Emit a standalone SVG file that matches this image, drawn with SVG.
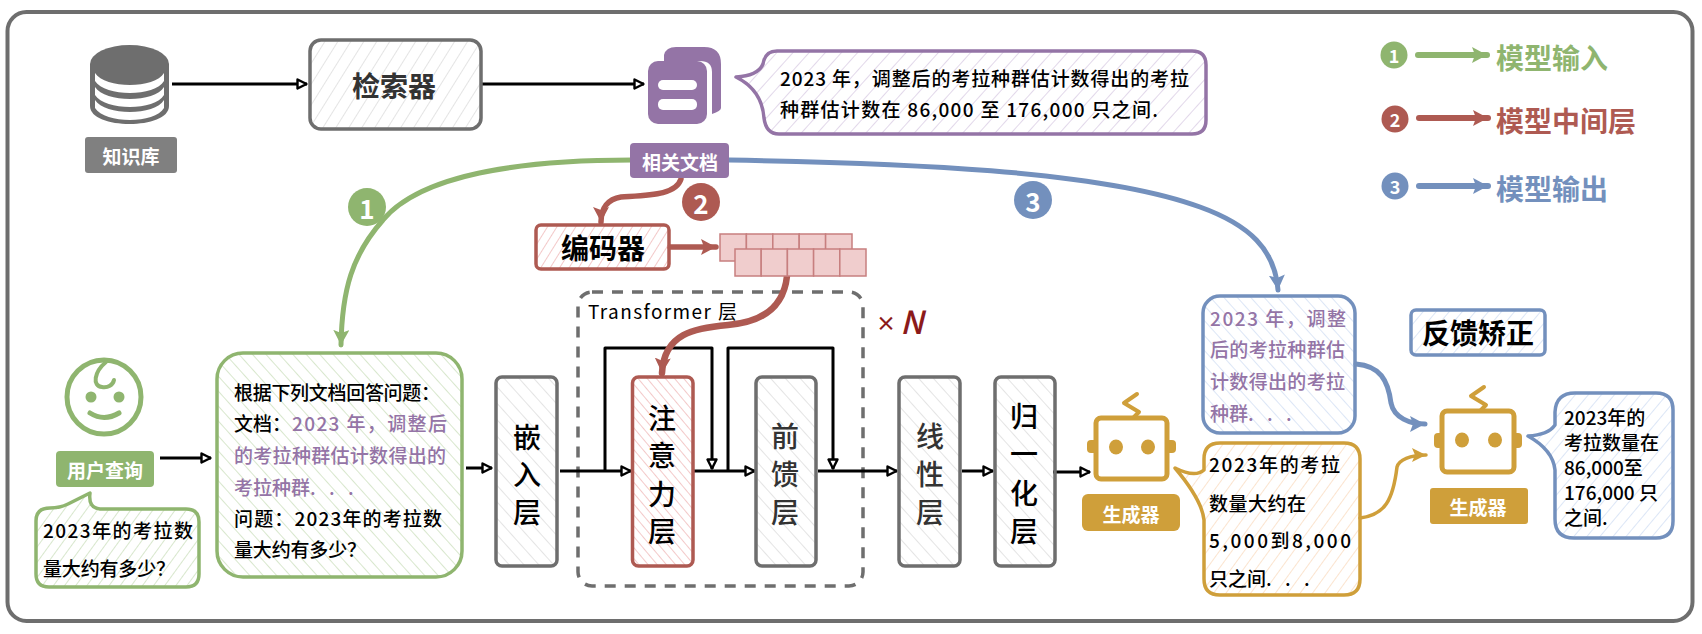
<svg xmlns="http://www.w3.org/2000/svg" width="1702" height="634" viewBox="0 0 1702 634">
<style>
text{font-family:"Noto Sans CJK SC","Noto Sans",sans-serif;dominant-baseline:central;fill:#000}
.t{font-size:19px;font-weight:500}
.p{fill:#9474a6}
.lab{fill:#fff;font-size:19px;font-weight:700;text-anchor:middle}
.v{font-size:28px;font-weight:500;text-anchor:middle}
.vg{fill:#333}
.h{font-size:28px;font-weight:700;text-anchor:middle}
.leg{font-size:28px;font-weight:700}
.num{fill:#fff;font-weight:700;text-anchor:middle}
.box{stroke-width:3.5;stroke-linejoin:round}
.k{fill:none;stroke:#000;stroke-width:3;stroke-linejoin:round}
.c{fill:none;stroke-linecap:round}
.cell{fill:#f0cdcd;stroke:#c77f7f;stroke-width:1.5}
.d{word-spacing:9px}
</style>
<defs>
<pattern id="hgf" width="11" height="11" patternUnits="userSpaceOnUse" patternTransform="rotate(32)"><line x1="0" y1="0" x2="0" y2="11" stroke="#e4e4e4" stroke-width="2"/></pattern>
<pattern id="hgb" width="11" height="11" patternUnits="userSpaceOnUse" patternTransform="rotate(-42)"><line x1="0" y1="0" x2="0" y2="11" stroke="#e4e4e4" stroke-width="2"/></pattern>
<pattern id="hrb" width="7" height="7" patternUnits="userSpaceOnUse" patternTransform="rotate(-40)"><line x1="0" y1="0" x2="0" y2="7" stroke="#f3c9c9" stroke-width="2"/></pattern>
<pattern id="hrf" width="8" height="8" patternUnits="userSpaceOnUse" patternTransform="rotate(32)"><line x1="0" y1="0" x2="0" y2="8" stroke="#f3c9c9" stroke-width="2"/></pattern>
<pattern id="hgnb" width="10" height="10" patternUnits="userSpaceOnUse" patternTransform="rotate(-42)"><line x1="0" y1="0" x2="0" y2="10" stroke="#d8e7cd" stroke-width="2"/></pattern>
<pattern id="hgnf" width="9" height="9" patternUnits="userSpaceOnUse" patternTransform="rotate(36)"><line x1="0" y1="0" x2="0" y2="9" stroke="#d8e7cd" stroke-width="2"/></pattern>
<pattern id="hpf" width="12" height="12" patternUnits="userSpaceOnUse" patternTransform="rotate(42)"><line x1="0" y1="0" x2="0" y2="12" stroke="#e2d8ea" stroke-width="2"/></pattern>
<pattern id="hbb" width="10" height="10" patternUnits="userSpaceOnUse" patternTransform="rotate(-42)"><line x1="0" y1="0" x2="0" y2="10" stroke="#dce6f6" stroke-width="2"/></pattern>
<pattern id="hbf" width="10" height="10" patternUnits="userSpaceOnUse" patternTransform="rotate(40)"><line x1="0" y1="0" x2="0" y2="10" stroke="#dce6f6" stroke-width="2"/></pattern>
<pattern id="hof" width="10" height="10" patternUnits="userSpaceOnUse" patternTransform="rotate(36)"><line x1="0" y1="0" x2="0" y2="10" stroke="#fbe4cf" stroke-width="2"/></pattern>
<marker id="ak" markerUnits="userSpaceOnUse" markerWidth="14" markerHeight="14" refX="11" refY="6" orient="auto"><path d="M1.5,1.5 L10.5,6 L1.5,10.5 Z" fill="#fff" stroke="#000" stroke-width="2.4" stroke-linejoin="round"/></marker>
<marker id="ag" markerUnits="userSpaceOnUse" markerWidth="20" markerHeight="20" refX="15" refY="8" orient="auto"><path d="M0,0 L15,8 L0,16 L3,8 Z" fill="#8fb56f"/></marker>
<marker id="ar" markerUnits="userSpaceOnUse" markerWidth="20" markerHeight="20" refX="15" refY="8" orient="auto"><path d="M0,0 L15,8 L0,16 L3,8 Z" fill="#ae5a52"/></marker>
<marker id="ab" markerUnits="userSpaceOnUse" markerWidth="20" markerHeight="20" refX="15" refY="8" orient="auto"><path d="M0,0 L15,8 L0,16 L3,8 Z" fill="#7390bd"/></marker>
<marker id="ay" markerUnits="userSpaceOnUse" markerWidth="20" markerHeight="20" refX="14" refY="7" orient="auto"><path d="M0,0 L14,7 L0,14 L3,7 Z" fill="#cf9f3a"/></marker>
</defs>
<rect width="1702" height="634" fill="#fff"/>
<rect id="frame" x="7.5" y="12" width="1685" height="609" rx="19" fill="#fff" stroke="#6e6e6e" stroke-width="4"/>

<g id="transformer-group"><rect x="578" y="292" width="285" height="294" rx="14" fill="none" stroke="#6e6e6e" stroke-width="3.5" stroke-dasharray="11 9"/>
<text x="588" y="310" font-size="19" textLength="149">Transformer 层</text>
<text x="876" y="322" font-size="20" font-weight="700" style="fill:#8b1a1a">×</text><text x="900" y="320" font-size="32" font-style="italic" font-weight="500" style="fill:#8b1a1a">N</text></g>

<g id="connectors">
<path class="k" d="M172,84 H307" stroke-width="3.5" marker-end="url(#ak)"/>
<path class="k" d="M481,84 H644" marker-end="url(#ak)"/>
<path class="k" d="M160,458 H211" marker-end="url(#ak)"/>
<path class="k" d="M466,468 H492" stroke-width="3.5" marker-end="url(#ak)"/>
<path class="k" d="M560,471 H631" marker-end="url(#ak)"/>
<path class="k" d="M605,471 V348 H712 V469" marker-end="url(#ak)"/>
<path class="k" d="M694,471 H755" marker-end="url(#ak)"/>
<path class="k" d="M728,471 V348 H833 V469" marker-end="url(#ak)"/>
<path class="k" d="M818,471 H897" marker-end="url(#ak)"/>
<path class="k" d="M962,471 H993" marker-end="url(#ak)"/>
<path class="k" d="M1053,472 H1090" marker-end="url(#ak)"/>
<path class="c" d="M632,160 C520,160 420,175 383,220 C352,255 342,290 341,345" stroke="#8fb56f" stroke-width="5" marker-end="url(#ag)"/>
<path class="c" d="M729,160 C900,163 1100,170 1200,207 C1250,225 1275,250 1278,290" stroke="#7390bd" stroke-width="5" marker-end="url(#ab)"/>
<path class="c" d="M681,179 C676,195 650,195 621,197 C608,199 601,208 601,222" stroke="#ae5a52" stroke-width="5.5" marker-end="url(#ar)"/>
<path class="c" d="M670,247 H716" stroke="#ae5a52" stroke-width="5.5" marker-end="url(#ar)"/>
<path class="c" d="M787,276 C784,305 765,322 728,325 C695,328 664,333 662,373" stroke="#ae5a52" stroke-width="6.5" marker-end="url(#ar)"/>
<path class="c" d="M1356,364 C1380,366 1388,380 1391,403 C1394,418 1410,424 1425,424" stroke="#7390bd" stroke-width="5" marker-end="url(#ab)"/>
<path class="c" d="M1360,518 C1385,515 1393,500 1397,467 C1399,460 1410,455 1426,455" stroke="#cf9f3a" stroke-width="3.5" marker-end="url(#ay)"/>
<path class="c" d="M1418,55 H1487" stroke="#8fb56f" stroke-width="6" marker-end="url(#ag)"/>
<path class="c" d="M1419,118 H1488" stroke="#ae5a52" stroke-width="6" marker-end="url(#ar)"/>
<path class="c" d="M1419,186 H1488" stroke="#7390bd" stroke-width="6" marker-end="url(#ab)"/>
</g>

<g id="knowledge-base">
<ellipse cx="129.500" cy="64" rx="39.500" ry="19" fill="#6e6e6e"/>
<path d="M90,64 V106 C90,130 169,130 169,106 V64 Z" fill="#6e6e6e"/>
<path d="M95,73 C105,89 155,89 164,73 V81 C155,97 105,97 95,81 Z M95,87 C105,103 155,103 164,87 V95 C155,111 105,111 95,95 Z M95,100 C105,116 155,116 164,100 V108 C155,124 105,124 95,108 Z" fill="#fff"/>
<rect x="85" y="137" width="92" height="36" rx="3" fill="#808080"/>
<text class="lab" x="131" y="155">知识库</text></g>

<g id="retriever"><rect class="box" x="310" y="40" width="171" height="89" rx="11" fill="url(#hgf)" stroke="#6e6e6e"/><text class="h" x="394" y="85" style="fill:#333">检索器</text></g>

<g id="documents">
<path d="M664,61 V55 Q666,47 676,47 H704 Q721,47 721,64 V108 Q721,111 712,114 L712,72 Q712,61 700,61 Z" fill="#9474a6"/>
<rect x="648" y="61" width="59" height="63" rx="10" fill="#9474a6"/>
<rect x="658" y="80" width="39" height="10" rx="5" fill="#fff"/><rect x="658" y="99" width="39" height="11" rx="5" fill="#fff"/>
<rect x="630" y="143" width="99" height="35" rx="4" fill="#9474a6"/>
<text class="lab" x="680" y="161">相关文档</text></g>

<g id="doc-callout"><path class="box" d="M777,51 H1192 Q1206,51 1206,65 V120 Q1206,134 1192,134 H779 Q766,134 764,118 Q762,90 736,77 Q758,76 763,64 Q765,51 777,51 Z" fill="url(#hpf)" stroke="#9474a6"/>
<text class="t" x="780" y="77" textLength="409">2023 年，调整后的考拉种群估计数得出的考拉</text>
<text class="t" x="780" y="108" textLength="378">种群估计数在 86,000 至 176,000 只之间.</text></g>

<g id="legend">
<circle cx="1394" cy="55" r="13.500" fill="#8fb56f"/><text class="num" x="1394" y="55" font-size="18">1</text>
<circle cx="1395" cy="119" r="13.500" fill="#ae5a52"/><text class="num" x="1395" y="119" font-size="18">2</text>
<circle cx="1395" cy="186" r="13.500" fill="#7390bd"/><text class="num" x="1395" y="186" font-size="18">3</text>
<text class="leg" x="1496" y="57" style="fill:#8fb56f">模型输入</text>
<text class="leg" x="1496" y="120" style="fill:#ae5a52">模型中间层</text>
<text class="leg" x="1496" y="188" style="fill:#7390bd">模型输出</text></g>

<g id="badges">
<circle cx="367" cy="207" r="19" fill="#8fb56f"/><text class="num" x="367" y="207" font-size="26">1</text>
<circle cx="701" cy="202" r="19" fill="#ae5a52"/><text class="num" x="701" y="202" font-size="26">2</text>
<circle cx="1033" cy="200" r="19" fill="#7390bd"/><text class="num" x="1033" y="200" font-size="26">3</text></g>

<g id="encoder"><rect class="box" x="536" y="225" width="133" height="44" rx="5" fill="url(#hrf)" stroke="#ae5a52"/><text class="h" x="603" y="247">编码器</text></g>

<g id="embedding-grid">
<rect class="cell" x="720" y="234" width="26.400" height="27"/><rect class="cell" x="746.400" y="234" width="26.400" height="27"/><rect class="cell" x="772.800" y="234" width="26.400" height="27"/><rect class="cell" x="799.200" y="234" width="26.400" height="27"/><rect class="cell" x="825.600" y="234" width="26.400" height="27"/>
<rect class="cell" x="735" y="249" width="26.200" height="27"/><rect class="cell" x="761.200" y="249" width="26.200" height="27"/><rect class="cell" x="787.400" y="249" width="26.200" height="27"/><rect class="cell" x="813.600" y="249" width="26.200" height="27"/><rect class="cell" x="839.800" y="249" width="26.200" height="27"/></g>

<g id="user">
<circle cx="104" cy="397" r="37" fill="#fff" stroke="#8fb56f" stroke-width="5"/>
<path d="M106,362 C94,372 92,386 102,387 C108,388 113,385 114,380" fill="none" stroke="#8fb56f" stroke-width="4" stroke-linecap="round"/>
<circle cx="91" cy="397" r="5.500" fill="#8fb56f"/><circle cx="119" cy="397" r="5.500" fill="#8fb56f"/>
<path d="M90,413 Q104,422 119,413" fill="none" stroke="#8fb56f" stroke-width="5" stroke-linecap="round"/>
<rect x="56" y="451" width="98" height="36" rx="4" fill="#8fb56f"/>
<text class="lab" x="105" y="469">用户查询</text></g>

<g id="query-callout"><path class="box" d="M50,508 Q60,508 68,504 L90,493 Q88,508 100,509 H186 Q199,509 199,522 V574 Q199,587 186,587 H49 Q36,587 36,574 V521 Q36,508 50,508 Z" fill="url(#hgnf)" stroke="#8fb56f"/>
<text class="t" x="43" y="529" textLength="150">2023年的考拉数</text>
<text class="t" x="43" y="567" textLength="132">量大约有多少？</text></g>

<g id="prompt"><rect class="box" x="217" y="353" width="245" height="224" rx="26" fill="url(#hgnb)" stroke="#8fb56f"/>
<text class="t" x="234" y="391" textLength="206">根据下列文档回答问题：</text>
<text class="t" x="234" y="422">文档：</text>
<text class="t p" x="292" y="422" textLength="155">2023 年，调整后</text>
<text class="t p" x="234" y="454" textLength="212">的考拉种群估计数得出的</text>
<text class="t p" x="234" y="486">考拉种群<tspan class="d">. . .</tspan></text>
<text class="t" x="234" y="517" textLength="208">问题：2023年的考拉数</text>
<text class="t" x="234" y="548" textLength="132">量大约有多少？</text></g>

<g id="embedding-layer"><rect class="box" x="496" y="377" width="61" height="189" rx="6" fill="url(#hgb)" stroke="#6e6e6e"/><text class="v"><tspan x="527" y="436">嵌</tspan><tspan x="527" y="473">入</tspan><tspan x="527" y="511">层</tspan></text></g>
<g id="attention-layer"><rect class="box" x="632.500" y="377" width="60.500" height="189" rx="6" fill="url(#hrb)" stroke="#ae5a52"/><text class="v"><tspan x="662" y="417">注</tspan><tspan x="662" y="454">意</tspan><tspan x="662" y="493">力</tspan><tspan x="662" y="530">层</tspan></text></g>
<g id="feedforward-layer"><rect class="box" x="756" y="377" width="60" height="189" rx="6" fill="url(#hgb)" stroke="#6e6e6e"/><text class="v vg"><tspan x="785" y="435">前</tspan><tspan x="785" y="473">馈</tspan><tspan x="785" y="511">层</tspan></text></g>
<g id="linear-layer"><rect class="box" x="899" y="377" width="61" height="189" rx="6" fill="url(#hgb)" stroke="#6e6e6e"/><text class="v vg"><tspan x="930" y="435">线</tspan><tspan x="930" y="473">性</tspan><tspan x="930" y="511">层</tspan></text></g>
<g id="norm-layer"><rect class="box" x="995" y="377" width="60" height="189" rx="6" fill="url(#hgb)" stroke="#6e6e6e"/><text class="v"><tspan x="1024" y="415">归</tspan><tspan x="1024" y="453">一</tspan><tspan x="1024" y="492">化</tspan><tspan x="1024" y="530">层</tspan></text></g>

<g id="generator-1">
<rect x="1087" y="440" width="89" height="13" rx="4" fill="#cf9f3a"/>
<rect x="1096" y="418" width="71" height="61" rx="5" fill="#fff" stroke="#cf9f3a" stroke-width="5"/>
<path d="M1137,394 L1124,403 L1139,412 L1134,417" fill="none" stroke="#cf9f3a" stroke-width="4" stroke-linecap="round" stroke-linejoin="round"/>
<ellipse cx="1116" cy="447" rx="7" ry="7.500" fill="#cf9f3a"/><ellipse cx="1148" cy="447" rx="7" ry="7.500" fill="#cf9f3a"/>
<rect x="1082" y="494" width="98" height="37" rx="6" fill="#cf9f3a"/>
<text class="lab" x="1131" y="513">生成器</text></g>

<g id="generator-answer"><path class="box" d="M1220,443 H1344 Q1360,443 1360,459 V579 Q1360,595 1344,595 H1220 Q1204,595 1204,579 V520 Q1202,500 1175,468 Q1195,478 1204,470 V459 Q1204,443 1220,443 Z" fill="url(#hof)" stroke="#cf9f3a"/>
<text class="t" x="1209" y="463" textLength="131">2023年的考拉</text>
<text class="t" x="1209" y="502" textLength="97">数量大约在</text>
<text class="t" x="1209" y="539" textLength="142">5,000到8,000</text>
<text class="t" x="1209" y="577">只之间<tspan class="d">. . .</tspan></text></g>

<g id="context-box"><rect class="box" x="1203" y="296" width="152" height="137" rx="17" fill="url(#hbb)" stroke="#7390bd"/>
<text class="t p" x="1210" y="317" textLength="136">2023 年，调整</text>
<text class="t p" x="1210" y="348" textLength="135">后的考拉种群估</text>
<text class="t p" x="1210" y="380" textLength="135">计数得出的考拉</text>
<text class="t p" x="1210" y="412">种群<tspan class="d">. . .</tspan></text></g>

<g id="feedback"><rect class="box" x="1411" y="310" width="134" height="45" rx="5" fill="url(#hbf)" stroke="#7390bd"/><text class="h" x="1478" y="332">反馈矫正</text></g>

<g id="generator-2">
<rect x="1434" y="433" width="88" height="15" rx="4" fill="#cf9f3a"/>
<rect x="1442" y="411" width="72" height="61" rx="5" fill="#fff" stroke="#cf9f3a" stroke-width="5"/>
<path d="M1484,387 L1471,396 L1486,405 L1481,410" fill="none" stroke="#cf9f3a" stroke-width="4" stroke-linecap="round" stroke-linejoin="round"/>
<ellipse cx="1462" cy="440" rx="7" ry="7.500" fill="#cf9f3a"/><ellipse cx="1495" cy="440" rx="7" ry="7.500" fill="#cf9f3a"/>
<rect x="1430" y="488" width="98" height="36" rx="3" fill="#cf9f3a"/>
<text class="lab" x="1478" y="506">生成器</text></g>

<g id="final-answer"><path class="box" d="M1575,393 H1656 Q1673,393 1673,410 V521 Q1673,538 1656,538 H1574 Q1555,538 1555,519 V470 Q1553,450 1528,436 Q1548,435 1555,425 V412 Q1556,393 1575,393 Z" fill="url(#hbf)" stroke="#7390bd"/>
<text class="t"><tspan x="1564" y="416">2023年的</tspan><tspan x="1564" y="441">考拉数量在</tspan><tspan x="1564" y="466">86,000至</tspan><tspan x="1564" y="491">176,000 只</tspan><tspan x="1564" y="516">之间.</tspan></text></g>
</svg>
